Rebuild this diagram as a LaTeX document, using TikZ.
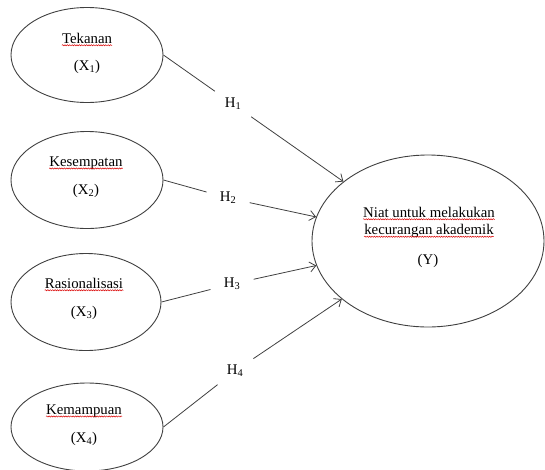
\documentclass[tikz,border=0pt]{standalone}
\usepackage{fontspec}
\setmainfont{Liberation Serif}
\usetikzlibrary{shapes.geometric,arrows.meta,decorations.pathmorphing}
\begin{document}
\begin{tikzpicture}[x=1pt,y=-1pt,
  elli/.style={ellipse, draw=black!75, line width=0.9pt, inner sep=0pt},
  txt/.style={inner sep=0pt, font=\fontsize{14.8}{17}\selectfont, text=black},
  hyp/.style={circle, inner sep=0pt, minimum size=44pt, font=\fontsize{14.8}{17}\selectfont},
  link/.style={draw=black!75, line width=0.8pt},
  arr/.style={link, -{Straight Barb[length=6pt,width=10pt]}},
  spell/.style={draw=red!85!black, line width=0.5pt, decorate, decoration={snake, amplitude=0.6pt, segment length=2.4pt}}
]
\useasboundingbox (0,0) rectangle (545,469);

% independent variables
\node[elli, minimum width=152pt, minimum height=95pt] (x1) at (87,55) {};
\node[elli, minimum width=152pt, minimum height=97pt] (x2) at (87,180) {};
\node[elli, minimum width=150pt, minimum height=97pt] (x3) at (86,302) {};
\node[elli, minimum width=152pt, minimum height=88pt] (x4) at (87,427) {};

\node[txt] (t1) at (87,38) {Tekanan};
\node[txt] (s1) at (87,67) {(X\textsubscript{1})};
\node[txt] (t2) at (86,163) {Kesempatan};
\node[txt] (s2) at (86,191) {(X\textsubscript{2})};
\node[txt] (t3) at (84,283) {Rasionalisasi};
\node[txt] (s3) at (84,313) {(X\textsubscript{3})};
\node[txt] (t4) at (84,411) {Kemampuan};
\node[txt] (s4) at (84,439) {(X\textsubscript{4})};

% dependent variable
\node[elli, minimum width=232pt, minimum height=172pt] (y) at (428,241) {};
\node[txt] (ty1) at (429,212) {Niat untuk melakukan};
\node[txt] (ty2) at (429,231) {kecurangan akademik};
\node[txt] (ty3) at (428,261) {(Y)};

% spell-check underlines
\foreach \n in {t1,t2,t3,t4,ty1,ty2}{
  \draw[spell] ([yshift=-2.2pt]\n.base west) -- ([yshift=-2.2pt]\n.base east);
}

% hypotheses
\node[hyp] (h1) at (233,104) {H\textsubscript{1}};
\node[hyp] (h2) at (228,198) {H\textsubscript{2}};
\node[hyp] (h3) at (232,284) {H\textsubscript{3}};
\node[hyp] (h4) at (235,371) {H\textsubscript{4}};

% connectors
\draw[link] (x1.east) -- (h1);
\draw[arr] (h1) -- (y);
\draw[link] (x2.east) -- (h2);
\draw[arr] (h2) -- (y);
\draw[link] (x3.east) -- (h3);
\draw[arr] (h3) -- (y);
\draw[link] (x4.east) -- (h4);
\draw[arr] (h4) -- (y);
\end{tikzpicture}
\end{document}
